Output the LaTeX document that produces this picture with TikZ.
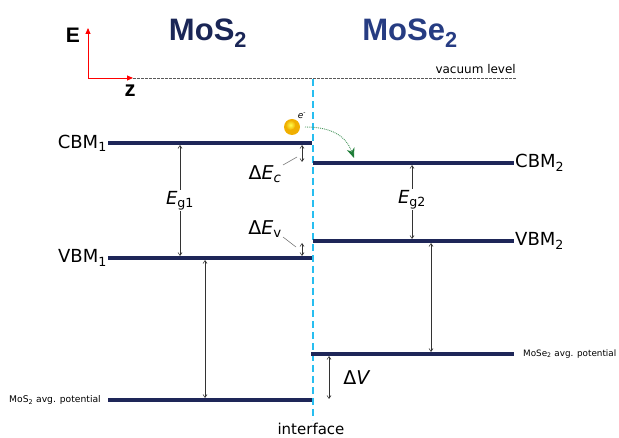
\documentclass[tikz,border=0pt]{standalone}
\usepackage{fontspec}
\setmainfont{DejaVu Sans}
\newfontfamily\titlefont{Liberation Sans}
\usetikzlibrary{calc,arrows.meta}
\definecolor{levelNavy}{RGB}{30,38,88}
\definecolor{titleNavy}{RGB}{26,38,86}
\definecolor{titleBlue}{RGB}{38,60,130}
\definecolor{ifaceCyan}{RGB}{40,190,240}
\definecolor{hopGreen}{RGB}{30,125,55}
\definecolor{ballYellow}{RGB}{240,175,0}
\newcommand{\fs}[1]{\fontsize{#1}{#1}\selectfont}
\newcommand{\lowsub}[1]{\textsubscript{#1}}
\tikzset{
  level/.style={draw=levelNavy,line width=3.2pt},
  gap/.style={draw=black!80,line width=0.6pt,{Straight Barb[length=3pt,width=4pt]}-{Straight Barb[length=3pt,width=4pt]}},
  leader/.style={draw=black!60,line width=0.5pt},
  lvlabel/.style={inner sep=1pt,font=\fs{18}},
  gaplabel/.style={fill=white,inner sep=1pt,font=\fs{18}}
}

\begin{document}
\begin{tikzpicture}[x=1pt,y=-1pt]
\useasboundingbox (0,0) rectangle (619,438);
% titles and axes
\node[font=\titlefont\bfseries\fs{31},text=titleNavy] (tleft) at (208,33) {MoS\lowsub{2}};
\node[font=\titlefont\bfseries\fs{31},text=titleBlue] (tright) at (410,33) {MoSe\lowsub{2}};
\coordinate (orig) at (88,78);
\coordinate (eax) at (88,28);
\coordinate (zax) at (133,78);
\draw[red,line width=0.9pt,-{Triangle[length=6pt,width=5pt]}] (orig) -- (eax);
\draw[red,line width=0.9pt,-{Triangle[length=6pt,width=5pt]}] (orig) -- (zax);
\node[font=\titlefont\bfseries\fs{21}] (elab) at (73,35) {E};
\node[font=\titlefont\bfseries\fs{22}] (zlab) at (130,91) {z};
% vacuum level and interface
\coordinate (vac1) at (133,78);
\coordinate (vac2) at (517,78);
\draw[black!65,dashed,line width=0.6pt,dash pattern=on 2.5pt off 1.5pt] (vac1) -- (vac2);
\node[font=\fs{12},anchor=south east,inner sep=1pt] (vaclab) at (517,75) {vacuum level};
\coordinate (if1) at (313,79);
\coordinate (if2) at (313,420);
\draw[ifaceCyan,line width=1.1pt,dash pattern=on 7pt off 4pt] (if1) -- (if2);
\node[font=\fs{15},anchor=north] (iflab) at (311,420) {interface};
% band levels
\draw[level] (108,143) coordinate (c1a) -- (312,143) coordinate (c1b);
\draw[level] (108,258) coordinate (v1a) -- (312,258) coordinate (v1b);
\draw[level] (313,163) coordinate (c2a) -- (514,163) coordinate (c2b);
\draw[level] (313,241) coordinate (v2a) -- (514,241) coordinate (v2b);
\draw[level] (311,354) coordinate (p2a) -- (514,354) coordinate (p2b);
\draw[level] (108,400) coordinate (p1a) -- (312,400) coordinate (p1b);
\node[lvlabel,anchor=east] (cbm1) at (c1a) {CBM\lowsub{1}};
\node[lvlabel,anchor=east] (vbm1) at (v1a) {VBM\lowsub{1}};
\node[lvlabel,anchor=west] (cbm2) at (c2b) {CBM\lowsub{2}};
\node[lvlabel,anchor=west] (vbm2) at (v2b) {VBM\lowsub{2}};
\node[font=\fs{8.8},anchor=west,inner sep=1pt] (avg2) at ([xshift=8pt]p2b) {MoSe\lowsub{2} avg. potential};
\node[font=\fs{9.2},anchor=east,inner sep=1pt] (avg1) at ([xshift=-6pt]p1a) {MoS\lowsub{2} avg. potential};
% gaps
\coordinate (g1t) at (180,145);
\coordinate (g1b) at (180,256);
\draw[gap] (g1t) -- (g1b) node[gaplabel,midway] {\textit{E}\lowsub{g1}};
\coordinate (g2t) at (412,165);
\coordinate (g2b) at (412,239);
\draw[gap] (g2t) -- (g2b) node[gaplabel,pos=0.47] {\textit{E}\lowsub{g2}};
\coordinate (dct) at (302,145);
\coordinate (dcb) at (302,162);
\draw[gap] (dct) -- (dcb);
\coordinate (dvt) at (302,243);
\coordinate (dvb) at (302,256);
\draw[gap] (dvt) -- (dvb);
\coordinate (l1t) at (205,260);
\coordinate (l1b) at (205,398);
\draw[gap] (l1t) -- (l1b);
\coordinate (r1t) at (431,243);
\coordinate (r1b) at (431,352);
\draw[gap] (r1t) -- (r1b);
\coordinate (dvt2) at (329,356);
\coordinate (dvb2) at (329,399);
\draw[gap] (dvt2) -- (dvb2);
\node[font=\fs{19}] (dvlab) at (357,378) {Δ\textit{V}};
\node[font=\fs{19}] (declab) at (265,174) {Δ\textit{E}\lowsub{\textit{c}}};
\node[font=\fs{19}] (devlab) at (265,229) {Δ\textit{E}\lowsub{v}};
\draw[leader] (283,165) -- (297,157);
\draw[leader] (283,237) -- (296,247);
% electron hop
\fill[ballYellow] (292,127) circle (8);
\shade[inner color=yellow!70!white,outer color=ballYellow] (290.5,125) circle (5);
\node[font=\fs{9},inner sep=0pt] (elec) at (302,116) {\textit{e}\textsuperscript{-}};
\coordinate (hop1) at (305,127);
\coordinate (hop2) at (354,158);
\draw[hopGreen!80,densely dotted,line width=0.9pt,-{Stealth[length=10pt,width=8pt,color=hopGreen]}] (hop1) .. controls (332,127) and (346,136) .. (hop2);
\end{tikzpicture}
\end{document}
